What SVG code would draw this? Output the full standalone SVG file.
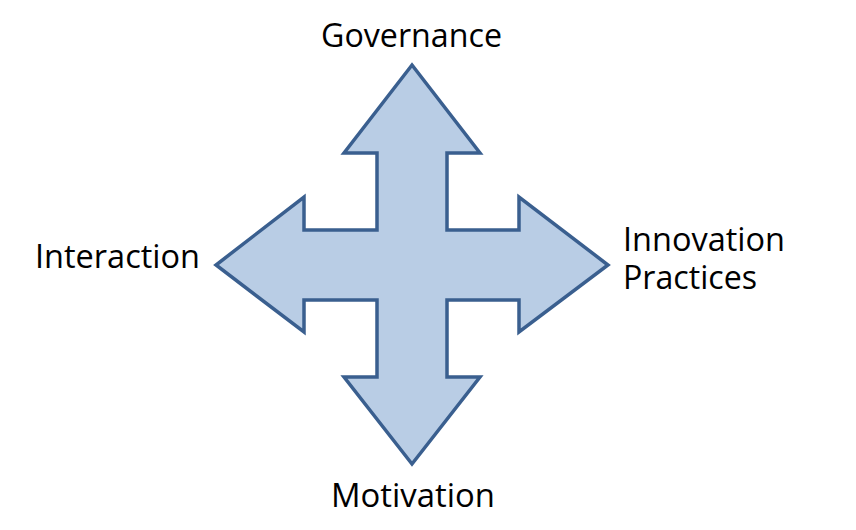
<svg xmlns="http://www.w3.org/2000/svg" width="856" height="530" viewBox="0 0 856 530">
<style>
.lbl{font-family:"Open Sans","Liberation Sans",sans-serif;font-size:32px;fill:#000}
.arrow{fill:#B9CDE5;stroke:#3A5F8F;stroke-width:3.5;stroke-linejoin:miter}
</style>
<rect width="856" height="530" fill="#fff"/>
<g id="cross-arrow">
<path class="arrow" d="M412,65 L480,153 L447,153 L447,230 L519,230 L519,197 L608,265 L519,332 L519,300 L447,300 L447,377 L480,377 L412,464 L344,377 L377,377 L377,300 L304,300 L304,332 L216,265 L304,197 L304,230 L377,230 L377,153 L344,153 Z"/>
</g>
<g id="governance"><text class="lbl" x="321" y="47" textLength="181" lengthAdjust="spacingAndGlyphs">Governance</text></g>
<g id="innovation-practices">
<text class="lbl" x="623" y="251" textLength="162" lengthAdjust="spacingAndGlyphs">Innovation</text>
<text class="lbl" x="623" y="289" textLength="134" lengthAdjust="spacingAndGlyphs">Practices</text>
</g>
<g id="interaction"><text class="lbl" x="35" y="268" textLength="165" lengthAdjust="spacingAndGlyphs">Interaction</text></g>
<g id="motivation"><text class="lbl" x="331" y="507" textLength="164" lengthAdjust="spacingAndGlyphs">Motivation</text></g>
<g id="connectors"></g>
</svg>
